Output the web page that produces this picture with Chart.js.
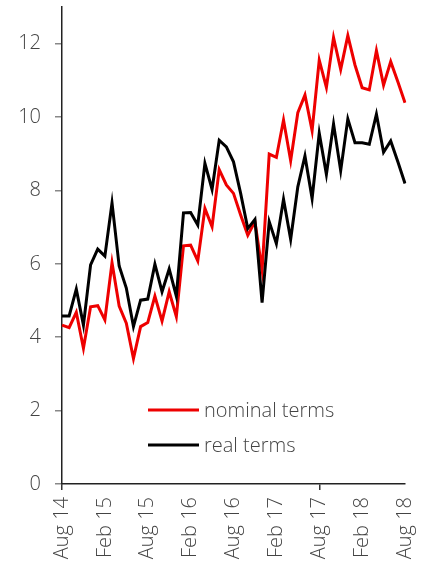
<!DOCTYPE html>
<html>
<head>
<meta charset="utf-8">
<script src="https://cdn.jsdelivr.net/npm/chart.js@4/dist/chart.umd.min.js"></script>
<style>
html,body{margin:0;padding:0;background:#fff;}
#wrap{position:relative;width:427px;height:562px;}
</style>
</head>
<body>
<div id="wrap"><canvas id="c" width="427" height="562"></canvas></div>
<script>
const labels = ["Aug 14","Sep 14","Oct 14","Nov 14","Dec 14","Jan 15","Feb 15","Mar 15","Apr 15","May 15","Jun 15","Jul 15",
"Aug 15","Sep 15","Oct 15","Nov 15","Dec 15","Jan 16","Feb 16","Mar 16","Apr 16","May 16","Jun 16","Jul 16",
"Aug 16","Sep 16","Oct 16","Nov 16","Dec 16","Jan 17","Feb 17","Mar 17","Apr 17","May 17","Jun 17","Jul 17",
"Aug 17","Sep 17","Oct 17","Nov 17","Dec 17","Jan 18","Feb 18","Mar 18","Apr 18","May 18","Jun 18","Jul 18","Aug 18"];
const nominal = [4.33,4.26,4.68,3.70,4.83,4.86,4.47,6.03,4.85,4.38,3.42,4.29,4.40,5.12,4.44,5.24,4.56,6.49,6.51,6.08,7.51,7.01,8.57,8.15,7.92,7.33,6.78,7.15,5.83,8.99,8.90,9.92,8.81,10.12,10.60,9.63,11.55,10.81,12.17,11.30,12.22,11.42,10.80,10.74,11.81,10.87,11.51,10.96,10.39];
const real = [4.58,4.58,5.31,4.33,5.97,6.40,6.21,7.66,5.94,5.34,4.29,5.01,5.04,5.99,5.24,5.86,5.12,7.39,7.40,7.06,8.74,8.03,9.37,9.19,8.78,7.92,6.96,7.21,4.94,7.15,6.55,7.76,6.67,8.10,8.94,7.78,9.56,8.44,9.81,8.54,9.95,9.30,9.30,9.26,10.08,9.04,9.35,8.78,8.19];
const seriesNames = ["nominal terms","real terms"];
const yTicks = [0,2,4,6,8,10,12];

const FONT = "'Open Sans', 'Liberation Sans', sans-serif";
const TXT = '#444';

const legendPlugin = {
  id: 'inlineLegend',
  afterDraw(chart) {
    const ctx = chart.ctx;
    ctx.save();
    const rows = [410, 445];
    chart.data.datasets.forEach((ds, i) => {
      const y = rows[i];
      ctx.strokeStyle = ds.borderColor;
      ctx.lineWidth = 3;
      ctx.beginPath();
      ctx.moveTo(148, y);
      ctx.lineTo(199, y);
      ctx.stroke();
      ctx.fillStyle = '#444';
      ctx.font = "300 20px " + FONT;
      ctx.textBaseline = 'middle';
      ctx.textAlign = 'left';
      ctx.fillText(ds.label, 204, y + 1);
    });
    ctx.restore();
  }
};

new Chart(document.getElementById('c'), {
  type: 'line',
  data: {
    labels: labels,
    datasets: [
      { label: seriesNames[0], data: nominal, borderColor: '#ee0000', borderWidth: 3, pointRadius: 0, tension: 0, fill: false, order: 2 },
      { label: seriesNames[1], data: real, borderColor: '#000000', borderWidth: 3, pointRadius: 0, tension: 0, fill: false, order: 1 }
    ]
  },
  options: {
    responsive: false,
    animation: false,
    layout: { padding: { top: 7, right: 22, left: 0, bottom: 0 } },
    plugins: { legend: { display: false }, tooltip: { enabled: false } },
    scales: {
      x: {
        type: 'category',
        offset: false,
        border: { display: true, color: '#222', width: 1.5 },
        grid: {
          drawOnChartArea: false,
          drawTicks: true,
          tickLength: 6,
          color: ctx => (ctx.index % 6 === 0 ? '#333' : 'rgba(0,0,0,0)'),
          lineWidth: 1.5
        },
        ticks: {
          autoSkip: false,
          maxRotation: 90,
          minRotation: 90,
          padding: 7,
          color: TXT,
          font: { family: FONT, size: 20, weight: 300 },
          callback: function(v, i) { return i % 6 === 0 ? labels[i] : null; }
        },
        afterFit: s => { s.height = 78; s.paddingLeft = 0; s.paddingRight = 0; }
      },
      y: {
        min: 0,
        max: 13,
        border: { display: true, color: '#222', width: 1.5 },
        grid: {
          drawOnChartArea: false,
          drawTicks: true,
          tickLength: 7,
          color: ctx => (yTicks.includes(ctx.tick && ctx.tick.value) ? '#888' : 'rgba(0,0,0,0)'),
          lineWidth: 1.5
        },
        ticks: {
          stepSize: 2,
          includeBounds: false,
          padding: 14,
          color: TXT,
          font: { family: FONT, size: 20, weight: 300 },
          callback: v => (yTicks.includes(v) ? String(v) : null)
        },
        afterFit: s => { s.width = 62; s.paddingTop = 0; s.paddingBottom = 0; }
      }
    }
  },
  plugins: [legendPlugin]
});
</script>
</body>
</html>
